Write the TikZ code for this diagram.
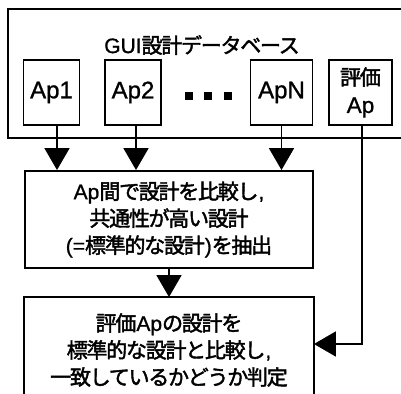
\documentclass[tikz,border=0pt]{standalone}
\usepackage{fontspec}
\setmainfont{Noto Sans CJK JP}[FakeBold=2,LetterSpace=-6]
\newfontfamily\lat{Liberation Sans}[FakeBold=1]
\newcommand\La[1]{{\lat\fontsize{21}{27}\selectfont #1}}
\newcommand\Lb[1]{{\lat\fontsize{24}{27}\selectfont #1}}
\usetikzlibrary{arrows.meta}
\begin{document}
\begin{tikzpicture}[x=1pt,y=-1pt,line width=1.9pt,
  txt/.style={font=\fontsize{21}{27}\selectfont,align=center,inner sep=0pt},
  apbox/.style={draw,txt,minimum height=65pt},
  bigbox/.style={txt,minimum width=288pt},
  arr/.style={-{Triangle[length=22pt,width=25pt]}},
  dot/.style={fill,minimum size=8pt,inner sep=0pt}]
\clip (0,0) rectangle (401,393);
% database frame (open to the right)
\node[minimum width=400pt,minimum height=127pt,inner sep=0pt] (db) at (209,73.5) {};
\draw (db.north east) -- (db.north west) -- (db.south west) -- (db.south east);
\node[txt] (title) at (202,45) {\La{GUI}設計データベース};
\node[apbox,minimum width=56pt] (ap1) at (51.5,92.5) {\Lb{Ap1}};
\node[apbox,minimum width=56pt] (ap2) at (133,92.5) {\Lb{Ap2}};
\node[apbox,minimum width=62pt] (apn) at (281.5,92.5) {\Lb{ApN}};
\node[apbox,minimum width=63pt,font=\fontsize{21}{28}\selectfont] (ev) at (360.5,92.5) {評価\\{\lat\fontsize{22.5}{28}\selectfont Ap}};
\node[dot] (d1) at (189,96) {};
\node[dot] (d2) at (208,96) {};
\node[dot] (d3) at (228,96) {};
% process boxes
\node[bigbox,draw,minimum height=97pt] (b2) at (169,219.5)
  {\La{Ap}間で設計を比較し\La{,}\\共通性が高い設計\\\La{(=}標準的な設計\La{)}を抽出};
\node[bigbox,minimum height=104pt] (b3) at (169,350)
  {評価\La{Ap}の設計を\\標準的な設計と比較し\La{,}\\一致しているかどうか判定};
\draw (b3.south west) -- (b3.north west) -- (b3.north east) -- (b3.south east);
% connectors
\draw[arr] ([xshift=5.5pt]ap1.south) -- ([xshift=5.5pt]ap1.south |- b2.north);
\draw[arr] ([xshift=3pt]ap2.south) -- ([xshift=3pt]ap2.south |- b2.north);
\draw[arr] (apn.south) -- (apn.south |- b2.north);
\draw[arr] (b2.south) -- (b3.north);
\coordinate (turn) at (362,344);
\draw[arr] (ev.south -| turn) -- (turn) -- (turn -| b3.east);
\end{tikzpicture}
\end{document}
